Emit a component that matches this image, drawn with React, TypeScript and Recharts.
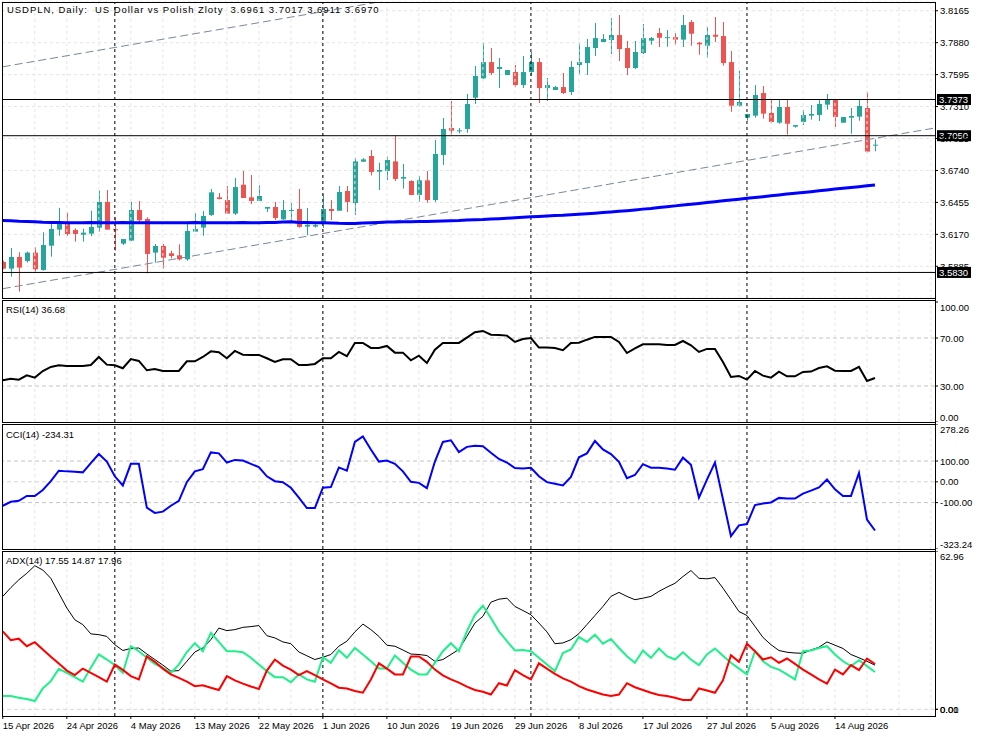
import React from 'react';
import { ComposedChart, Bar, Line, XAxis, YAxis, CartesianGrid, ReferenceLine } from 'recharts';

const FONT = '"Liberation Sans", Arial, sans-serif';
const FS = 9.5;
const UP = '#26a69a';
const DOWN = '#ef5350';

// bar index -> date labels on the time axis
const DATE_TICKS = [0, 8, 16, 24, 32, 40, 48, 56, 64, 72, 80, 88, 96, 104];
const DATE_LABELS = [
  '15 Apr 2026', '24 Apr 2026', '4 May 2026', '13 May 2026', '22 May 2026', '1 Jun 2026', '10 Jun 2026',
  '19 Jun 2026', '29 Jun 2026', '8 Jul 2026', '17 Jul 2026', '27 Jul 2026', '5 Aug 2026', '14 Aug 2026',
];
const MONTH_STARTS = [14, 40, 66, 93];
const GRID_X = [4, 8, 12, 16, 20, 24, 28, 32, 36, 40, 44, 48, 52, 56, 60, 64, 68, 72, 76, 80, 84, 88, 92, 96, 100, 104, 108, 112, 116];
const X_DOMAIN: [number, number] = [-0.1, 116.5];

const OPEN = [
  3.5923, 3.5864, 3.5968, 3.5932, 3.6007, 3.5852, 3.6069, 3.6212, 3.6277, 3.6209,
  3.6167, 3.6176, 3.6230, 3.6459, 3.6215, 3.6087, 3.6114, 3.6387, 3.6307, 3.6007,
  3.6066, 3.6001, 3.5983, 3.5947, 3.6194, 3.6230, 3.6343, 3.6500, 3.6476, 3.6355,
  3.6613, 3.6500, 3.6468, 3.6399, 3.6414, 3.6304, 3.6381, 3.6396, 3.6239, 3.6239,
  3.6274, 3.6396, 3.6381, 3.6557, 3.6450, 3.6818, 3.6869, 3.6729, 3.6735, 3.6821,
  3.6667, 3.6646, 3.6521, 3.6652, 3.6476, 3.6878, 3.7119, 3.7095, 3.7110, 3.7389,
  3.7562, 3.7707, 3.7645, 3.7591, 3.7618, 3.7502, 3.7618, 3.7707, 3.7475, 3.7458,
  3.7484, 3.7440, 3.7681, 3.7698, 3.7832, 3.7886, 3.7904, 3.7948, 3.7832, 3.7654,
  3.7788, 3.7898, 3.7966, 3.7927, 3.7930, 3.7907, 3.8064, 3.7880, 3.7853, 3.7951,
  3.7939, 3.7707, 3.7318, 3.7211, 3.7229, 3.7431, 3.7253, 3.7166, 3.7306, 3.7131,
  3.7172, 3.7229, 3.7235, 3.7327, 3.7371, 3.7166, 3.7211, 3.7220, 3.7297, 3.6961,
];
const HIGH = [
  3.5935, 3.6048, 3.6010, 3.6016, 3.6054, 3.6188, 3.6262, 3.6405, 3.6363, 3.6224,
  3.6221, 3.6381, 3.6560, 3.6566, 3.6322, 3.6128, 3.6459, 3.6468, 3.6322, 3.6084,
  3.6084, 3.6024, 3.6081, 3.6265, 3.6358, 3.6378, 3.6575, 3.6539, 3.6601, 3.6673,
  3.6735, 3.6699, 3.6607, 3.6414, 3.6459, 3.6476, 3.6447, 3.6575, 3.6405, 3.6262,
  3.6530, 3.6476, 3.6601, 3.6601, 3.6851, 3.6851, 3.6922, 3.6809, 3.6863, 3.7053,
  3.6798, 3.6652, 3.6690, 3.6735, 3.7012, 3.7208, 3.7359, 3.7119, 3.7422, 3.7672,
  3.7877, 3.7832, 3.7743, 3.7636, 3.7681, 3.7761, 3.7797, 3.7743, 3.7565, 3.7493,
  3.7609, 3.7716, 3.7871, 3.7913, 3.8055, 3.7957, 3.8100, 3.8127, 3.7895, 3.7895,
  3.8046, 3.7930, 3.8011, 3.7993, 3.7966, 3.8127, 3.8082, 3.7886, 3.8020, 3.8109,
  3.8064, 3.7806, 3.7630, 3.7244, 3.7502, 3.7493, 3.7368, 3.7368, 3.7368, 3.7145,
  3.7279, 3.7324, 3.7368, 3.7422, 3.7373, 3.7217, 3.7297, 3.7368, 3.7440, 3.7017,
];
const LOW = [
  3.5858, 3.5793, 3.5659, 3.5917, 3.5837, 3.5846, 3.5971, 3.6158, 3.6155, 3.6105,
  3.6105, 3.6155, 3.6194, 3.6212, 3.6024, 3.6075, 3.6114, 3.6277, 3.5822, 3.5917,
  3.5864, 3.5956, 3.5938, 3.5935, 3.6194, 3.6158, 3.6334, 3.6482, 3.6355, 3.6343,
  3.6494, 3.6441, 3.6468, 3.6369, 3.6298, 3.6298, 3.6289, 3.6230, 3.6161, 3.6230,
  3.6227, 3.6298, 3.6381, 3.6369, 3.6343, 3.6818, 3.6696, 3.6566, 3.6655, 3.6646,
  3.6578, 3.6521, 3.6459, 3.6453, 3.6459, 3.6789, 3.7059, 3.7071, 3.7077, 3.7333,
  3.7556, 3.7591, 3.7475, 3.7591, 3.7484, 3.7475, 3.7583, 3.7342, 3.7359, 3.7458,
  3.7422, 3.7413, 3.7600, 3.7591, 3.7761, 3.7886, 3.7779, 3.7716, 3.7591, 3.7645,
  3.7779, 3.7862, 3.7841, 3.7844, 3.7862, 3.7841, 3.7853, 3.7773, 3.7746, 3.7886,
  3.7675, 3.7264, 3.7309, 3.7184, 3.7211, 3.7202, 3.7166, 3.7157, 3.7059, 3.7122,
  3.7145, 3.7193, 3.7181, 3.7282, 3.7128, 3.7166, 3.7068, 3.7184, 3.6899, 3.6911,
];
const CLOSE = [
  3.5864, 3.5968, 3.5873, 3.6007, 3.5858, 3.6075, 3.6218, 3.6280, 3.6173, 3.6173,
  3.6185, 3.6236, 3.6459, 3.6212, 3.6209, 3.6128, 3.6387, 3.6295, 3.5995, 3.6066,
  3.5962, 3.5977, 3.5947, 3.6200, 3.6218, 3.6334, 3.6545, 3.6485, 3.6355, 3.6592,
  3.6494, 3.6468, 3.6512, 3.6414, 3.6316, 3.6387, 3.6387, 3.6236, 3.6256, 3.6253,
  3.6396, 3.6378, 3.6548, 3.6459, 3.6821, 3.6839, 3.6726, 3.6744, 3.6833, 3.6664,
  3.6682, 3.6521, 3.6652, 3.6476, 3.6887, 3.7110, 3.7095, 3.7098, 3.7333, 3.7583,
  3.7707, 3.7609, 3.7663, 3.7636, 3.7502, 3.7618, 3.7707, 3.7475, 3.7502, 3.7484,
  3.7431, 3.7663, 3.7707, 3.7841, 3.7921, 3.7913, 3.7948, 3.7823, 3.7654, 3.7797,
  3.7921, 3.7921, 3.7924, 3.7929, 3.7907, 3.8037, 3.7960, 3.7865, 3.7948, 3.7933,
  3.7698, 3.7318, 3.7351, 3.7244, 3.7413, 3.7247, 3.7172, 3.7306, 3.7157, 3.7145,
  3.7235, 3.7244, 3.7333, 3.7371, 3.7217, 3.7217, 3.7226, 3.7315, 3.6908, 3.6970,
];
const MA = [
  3.6293, 3.6292, 3.6286, 3.6284, 3.6283, 3.6278, 3.6276, 3.6275, 3.6274, 3.6274,
  3.6274, 3.6275, 3.6274, 3.6273, 3.6274, 3.6275, 3.6274, 3.6274, 3.6273, 3.6274,
  3.6274, 3.6273, 3.6274, 3.6274, 3.6275, 3.6274, 3.6274, 3.6273, 3.6274, 3.6274,
  3.6275, 3.6274, 3.6274, 3.6275, 3.6276, 3.6281, 3.6282, 3.6276, 3.6275, 3.6274,
  3.6274, 3.6272, 3.6268, 3.6266, 3.6267, 3.6272, 3.6274, 3.6276, 3.6279, 3.6281,
  3.6282, 3.6283, 3.6284, 3.6285, 3.6287, 3.6290, 3.6292, 3.6294, 3.6298, 3.6301,
  3.6303, 3.6307, 3.6310, 3.6314, 3.6318, 3.6322, 3.6326, 3.6329, 3.6333, 3.6337,
  3.6340, 3.6345, 3.6349, 3.6354, 3.6359, 3.6364, 3.6369, 3.6375, 3.6381, 3.6388,
  3.6395, 3.6401, 3.6409, 3.6416, 3.6424, 3.6431, 3.6439, 3.6446, 3.6454, 3.6461,
  3.6469, 3.6476, 3.6484, 3.6491, 3.6499, 3.6506, 3.6514, 3.6521, 3.6529, 3.6536,
  3.6544, 3.6551, 3.6559, 3.6566, 3.6574, 3.6581, 3.6588, 3.6595, 3.6603, 3.6610,
];
const RSI = [
  34.8, 36.1, 35.3, 38.9, 37.0, 42.5, 45.9, 47.3, 46.7, 46.7,
  46.7, 47.5, 54.2, 47.8, 47.3, 44.8, 52.5, 50.9, 43.1, 44.2,
  42.5, 42.5, 42.5, 50.6, 50.6, 54.2, 58.9, 58.1, 53.1, 59.2,
  56.1, 55.9, 55.9, 53.1, 50.0, 52.3, 52.3, 47.5, 47.5, 48.4,
  53.1, 53.1, 58.4, 54.8, 65.9, 65.9, 61.7, 61.7, 63.4, 57.8,
  57.8, 51.4, 55.3, 49.2, 60.3, 65.9, 65.9, 65.9, 70.3, 74.8,
  75.9, 72.8, 72.5, 72.0, 66.7, 69.2, 70.0, 62.0, 62.0, 61.7,
  59.8, 65.9, 66.1, 68.6, 70.9, 70.9, 70.9, 66.7, 57.5, 61.4,
  64.8, 64.8, 64.8, 64.2, 64.2, 67.5, 63.9, 58.4, 60.9, 60.9,
  50.0, 37.5, 38.4, 35.3, 42.5, 38.6, 37.0, 42.0, 38.1, 38.1,
  41.7, 42.0, 45.0, 46.4, 42.8, 42.5, 42.5, 45.9, 34.2, 36.68,
];
const CCI = [
  -115.1, -96.2, -91.5, -67.9, -67.9, -39.5, 3.0, 53.4, 50.3, 48.7,
  45.5, 89.6, 133.7, 97.5, 26.6, -17.5, 86.5, 86.5, -124.5, -149.7,
  -143.4, -115.1, -91.5, -1.7, 50.3, 61.3, 141.6, 136.9, 92.8, 105.4,
  102.2, 86.5, 70.7, 26.6, 3.0, -1.7, -28.5, -75.7, -126.1, -126.1,
  -28.5, -25.3, 69.2, 53.4, 192.0, 218.7, 155.8, 97.5, 102.2, 86.5,
  50.3, -0.1, -4.9, -30.1, 97.5, 192.0, 199.8, 143.1, 168.3, 173.1,
  171.5, 140.0, 110.1, 92.8, 66.0, 64.4, 67.6, 26.6, -1.7, -9.6,
  -17.5, 23.5, 117.9, 136.9, 196.7, 155.8, 133.7, 95.9, 17.2, 32.9,
  84.9, 67.6, 67.6, 64.4, 58.1, 116.4, 81.7, -75.7, 10.9, 92.8,
  -83.6, -261.5, -209.6, -203.3, -111.9, -104.1, -99.3, -77.3, -80.4, -80.4,
  -56.8, -42.6, -26.9, 10.9, -36.4, -67.9, -67.9, 42.4, -181.2, -234.31,
];
const ADX = [
  44.9, 48.4, 51.5, 54.1, 57.1, 55.4, 52.1, 46.2, 40.3, 35.6,
  33.7, 30.0, 29.7, 29.0, 25.7, 23.4, 24.2, 24.4, 22.0, 19.8,
  17.6, 15.2, 15.4, 19.1, 22.8, 24.4, 27.7, 32.3, 31.3, 31.7,
  32.6, 32.9, 33.3, 29.3, 28.4, 26.8, 26.1, 22.8, 21.3, 19.8,
  20.7, 21.8, 25.1, 27.1, 30.8, 33.9, 31.7, 29.0, 25.5, 25.1,
  23.6, 22.0, 21.8, 21.4, 19.1, 19.8, 21.8, 23.8, 29.0, 34.3,
  37.0, 42.6, 43.8, 44.2, 40.9, 39.3, 37.6, 34.3, 30.8, 26.1,
  26.4, 27.7, 30.1, 33.7, 37.3, 40.9, 44.9, 46.5, 44.9, 43.6,
  44.2, 44.9, 46.9, 48.6, 50.1, 52.8, 55.2, 52.1, 51.9, 52.4,
  48.2, 43.6, 38.9, 37.3, 33.0, 28.6, 25.7, 23.4, 22.7, 22.4,
  22.3, 23.6, 24.7, 26.8, 25.5, 24.2, 21.8, 20.5, 19.1, 17.55,
];
const PLUS_DI = [
  5.3, 5.3, 4.6, 4.1, 3.3, 8.3, 11.2, 16.1, 14.5, 12.8,
  11.0, 16.5, 21.8, 19.8, 17.6, 14.5, 25.1, 23.1, 20.5, 18.1,
  16.5, 14.5, 17.8, 22.8, 26.3, 23.1, 30.4, 26.8, 23.1, 23.1,
  22.7, 20.5, 17.8, 15.2, 12.8, 12.8, 10.8, 13.9, 11.9, 11.0,
  20.7, 18.5, 23.5, 20.5, 24.4, 21.8, 19.1, 16.2, 16.2, 21.4,
  18.5, 15.8, 13.9, 13.9, 18.5, 23.1, 26.3, 23.1, 31.0, 37.6,
  41.2, 36.3, 31.0, 27.1, 23.4, 23.6, 23.1, 20.5, 17.8, 15.2,
  22.4, 23.8, 28.8, 26.8, 29.7, 26.1, 28.0, 24.4, 21.1, 18.5,
  23.4, 20.5, 24.2, 21.1, 19.8, 22.7, 19.8, 17.6, 21.8, 24.2,
  21.3, 18.5, 16.2, 13.9, 23.1, 19.1, 16.9, 15.8, 13.9, 11.9,
  23.1, 23.4, 24.4, 25.1, 21.8, 19.1, 17.2, 19.5, 17.2, 14.87,
];
const MINUS_DI = [
  31.0, 27.5, 28.1, 25.1, 26.7, 23.8, 20.9, 18.2, 15.4, 13.6,
  16.2, 14.5, 12.8, 11.0, 17.8, 15.7, 13.2, 11.9, 21.1, 18.9,
  16.2, 13.9, 12.5, 11.0, 9.2, 9.6, 8.6, 7.7, 13.2, 11.5,
  10.2, 9.1, 8.1, 15.4, 19.8, 17.4, 15.8, 13.6, 15.2, 13.6,
  11.9, 10.3, 8.6, 8.3, 7.3, 6.6, 11.9, 18.3, 16.2, 13.9,
  13.9, 21.0, 21.0, 18.9, 15.8, 13.5, 11.9, 10.6, 9.0, 7.7,
  7.0, 5.9, 10.4, 9.5, 15.6, 13.6, 11.9, 18.3, 16.2, 14.1,
  12.3, 11.0, 9.2, 7.9, 6.9, 5.9, 5.3, 5.9, 10.4, 8.8,
  7.7, 6.6, 5.7, 5.3, 4.6, 3.7, 3.7, 8.3, 7.5, 6.6,
  11.5, 21.5, 18.9, 26.1, 23.1, 19.8, 20.7, 18.5, 20.2, 18.1,
  15.8, 13.9, 11.9, 10.2, 15.8, 13.9, 17.6, 15.6, 20.2, 17.96,
];

const PRICE_DOMAIN: [number, number] = [3.5602, 3.8243];
const PRICE_TICKS = [3.5885, 3.617, 3.6455, 3.674, 3.7025, 3.731, 3.7595, 3.788, 3.8165];
const PRICE_LEVELS = [3.7373, 3.705, 3.583];
const CHANNEL_LOW = [{ x: 0, y: 3.5685 }, { x: 116.5, y: 3.7119 }];
const CHANNEL_HIGH = [{ x: 0, y: 3.7665 }, { x: 116.5, y: 3.9098 }];

const data = OPEN.map((o, i) => ({
  i,
  open: o,
  high: HIGH[i],
  low: LOW[i],
  close: CLOSE[i],
  range: [LOW[i], HIGH[i]],
  ma: MA[i],
  rsi: RSI[i],
  cci: CCI[i],
  adx: ADX[i],
  pdi: PLUS_DI[i],
  mdi: MINUS_DI[i],
}));

function Candle(props: any) {
  const { x, y, width, height, payload } = props;
  const { open, close, high, low } = payload;
  const top = Math.min(y, y + height);
  const h = Math.abs(height);
  const span = high - low;
  const py = (v: number) => (span === 0 ? top : top + ((high - v) / span) * h);
  const color = close >= open ? UP : DOWN;
  const cx = Math.round(x + width / 2) + 0.5;
  const bTop = py(Math.max(open, close));
  const bBot = py(Math.min(open, close));
  return (
    <g>
      <line x1={cx} x2={cx} y1={top} y2={top + h} stroke={color} strokeWidth={1} />
      <rect x={cx - 2.5} y={bTop} width={5} height={Math.max(1, bBot - bTop)} fill={color} />
    </g>
  );
}

const axisTick = (top: number, bottom: number, digits: number) => (p: any) => {
  const y = Math.min(Math.max(p.y, top + 5), bottom - 5);
  return (
    <text x={p.x} y={y} dy={3.5} fontSize={FS} fontFamily={FONT} fill="#000" textAnchor="start">
      {Number(p.payload.value).toFixed(digits)}
    </text>
  );
};

const levelTag = (text: string) => (p: any) => {
  const vb = p.viewBox;
  const x = vb.x + vb.width + 2;
  return (
    <g>
      <rect x={x} y={vb.y - 5.5} width={34} height={11} fill="#000" />
      <text x={x + 2} y={vb.y} dy={3.5} fontSize={FS} fontFamily={FONT} fill="#fff">{text}</text>
    </g>
  );
};

function DateTick(p: any) {
  const label = DATE_LABELS[DATE_TICKS.indexOf(p.payload.value)];
  return (
    <text x={p.x} y={p.y} dy={8} fontSize={FS} fontFamily={FONT} fill="#000" textAnchor="start">{label}</text>
  );
}

function timeGuides() {
  return [
    ...GRID_X.map((g) => (
      <ReferenceLine key={'g' + g} x={g} stroke="#e6e6e6" strokeDasharray="3 3" ifOverflow="hidden" />
    )),
    ...MONTH_STARTS.map((s) => (
      <ReferenceLine key={'s' + s} x={s} stroke="#000" strokeDasharray="3 3" />
    )),
  ];
}

const hiddenX = <XAxis type="number" dataKey="i" domain={X_DOMAIN} hide allowDataOverflow />;

const caption: React.CSSProperties = {
  position: 'absolute',
  left: 6,
  fontSize: FS,
  lineHeight: '11px',
  fontFamily: FONT,
  whiteSpace: 'pre',
  color: '#000',
};

const frames = [
  { top: 2, bottom: 298 },
  { top: 300, bottom: 422 },
  { top: 424, bottom: 549 },
  { top: 551, bottom: 716 },
];

export default function App() {
  return (
    <div style={{ position: 'absolute', left: 0, top: 0, width: 983, height: 737, background: '#fff', overflow: 'hidden' }}>
      <div style={{ position: 'absolute', left: 0, top: 0 }}>
        <ComposedChart width={983} height={300} data={data} margin={{ top: 2, right: 0, bottom: 2, left: 2 }}>
          {hiddenX}
          <YAxis orientation="right" width={48} domain={PRICE_DOMAIN} ticks={PRICE_TICKS} interval={0}
            tick={axisTick(2, 298, 4)} tickSize={3} tickMargin={2} axisLine={false} tickLine={{ stroke: '#000' }} allowDataOverflow />
          <CartesianGrid vertical={false} stroke="#e4e4e4" strokeDasharray="3 3" />
          {timeGuides()}
          <ReferenceLine segment={CHANNEL_LOW} stroke="#7a8899" strokeDasharray="8 4" ifOverflow="hidden" />
          <ReferenceLine segment={CHANNEL_HIGH} stroke="#7a8899" strokeDasharray="8 4" ifOverflow="hidden" />
          {PRICE_LEVELS.map((v) => (
            <ReferenceLine key={v} y={v} stroke="#000" label={levelTag(v.toFixed(4))} />
          ))}
          <Bar dataKey="range" barSize={5} shape={Candle} isAnimationActive={false} />
          <Line dataKey="ma" stroke="#0000ff" strokeWidth={3} dot={false} activeDot={false} isAnimationActive={false} />
        </ComposedChart>
      </div>

      <div style={{ position: 'absolute', left: 0, top: 300 }}>
        <ComposedChart width={983} height={122} data={data} margin={{ top: 2, right: 0, bottom: 0, left: 2 }}>
          {hiddenX}
          <YAxis orientation="right" width={48} domain={[0, 100]} ticks={[0, 30, 70, 100]} interval={0}
            tick={axisTick(2, 122, 2)} tickSize={3} tickMargin={2} axisLine={false} tickLine={{ stroke: '#000' }} allowDataOverflow />
          {timeGuides()}
          <ReferenceLine y={70} stroke="#c4c4c4" strokeDasharray="4 3" />
          <ReferenceLine y={30} stroke="#c4c4c4" strokeDasharray="4 3" />
          <Line dataKey="rsi" stroke="#000" strokeWidth={2} dot={false} activeDot={false} isAnimationActive={false} />
        </ComposedChart>
      </div>

      <div style={{ position: 'absolute', left: 0, top: 424 }}>
        <ComposedChart width={983} height={125} data={data} margin={{ top: 0, right: 0, bottom: 0, left: 2 }}>
          {hiddenX}
          <YAxis orientation="right" width={48} domain={[-323.24, 278.26]} ticks={[-323.24, -100, 0, 100, 278.26]} interval={0}
            tick={axisTick(0, 125, 2)} tickSize={3} tickMargin={2} axisLine={false} tickLine={{ stroke: '#000' }} allowDataOverflow />
          {timeGuides()}
          <ReferenceLine y={100} stroke="#c4c4c4" strokeDasharray="4 3" />
          <ReferenceLine y={0} stroke="#d4d4d4" strokeDasharray="4 3" />
          <ReferenceLine y={-100} stroke="#c4c4c4" strokeDasharray="4 3" />
          <Line dataKey="cci" stroke="#0000ff" strokeWidth={2} dot={false} activeDot={false} isAnimationActive={false} />
        </ComposedChart>
      </div>

      <div style={{ position: 'absolute', left: 0, top: 551 }}>
        <ComposedChart width={983} height={186} data={data} margin={{ top: 0, right: 0, bottom: 0, left: 2 }}>
          <XAxis type="number" dataKey="i" domain={X_DOMAIN} ticks={DATE_TICKS} interval={0} tick={DateTick}
            tickSize={3} tickMargin={2} axisLine={false} tickLine={{ stroke: '#000' }} height={21} allowDataOverflow />
          <YAxis orientation="right" width={48} domain={[-2.65, 62.96]} ticks={[0, 0.01, 62.96]} interval={0}
            tick={axisTick(0, 165, 2)} tickSize={3} tickMargin={2} axisLine={false} tickLine={{ stroke: '#000' }} allowDataOverflow />
          {timeGuides()}
          <ReferenceLine y={0} stroke="#d8d8d8" strokeDasharray="4 3" />
          <Line dataKey="adx" stroke="#000" strokeWidth={1} dot={false} activeDot={false} isAnimationActive={false} />
          <Line dataKey="pdi" stroke="#1ef08a" strokeWidth={2} dot={false} activeDot={false} isAnimationActive={false} />
          <Line dataKey="mdi" stroke="#ff0000" strokeWidth={2} dot={false} activeDot={false} isAnimationActive={false} />
        </ComposedChart>
      </div>

      {frames.map((f) => (
        <div key={f.top} style={{
          position: 'absolute', left: 2, top: f.top, width: 934, height: f.bottom - f.top + 1,
          border: '1px solid #000', boxSizing: 'border-box', pointerEvents: 'none',
        }} />
      ))}
      <div style={{ position: 'absolute', left: 935, top: 2, width: 1, height: 715, background: '#000' }} />

      <div style={{ ...caption, left: 7, top: 4, letterSpacing: 0.95 }}>USDPLN, Daily:  US Dollar vs Polish Zloty  3.6961 3.7017 3.6911 3.6970</div>
      <div style={{ ...caption, top: 304 }}>RSI(14) 36.68</div>
      <div style={{ ...caption, top: 429 }}>CCI(14) -234.31</div>
      <div style={{ ...caption, top: 555 }}>ADX(14) 17.55 14.87 17.96</div>
    </div>
  );
}
